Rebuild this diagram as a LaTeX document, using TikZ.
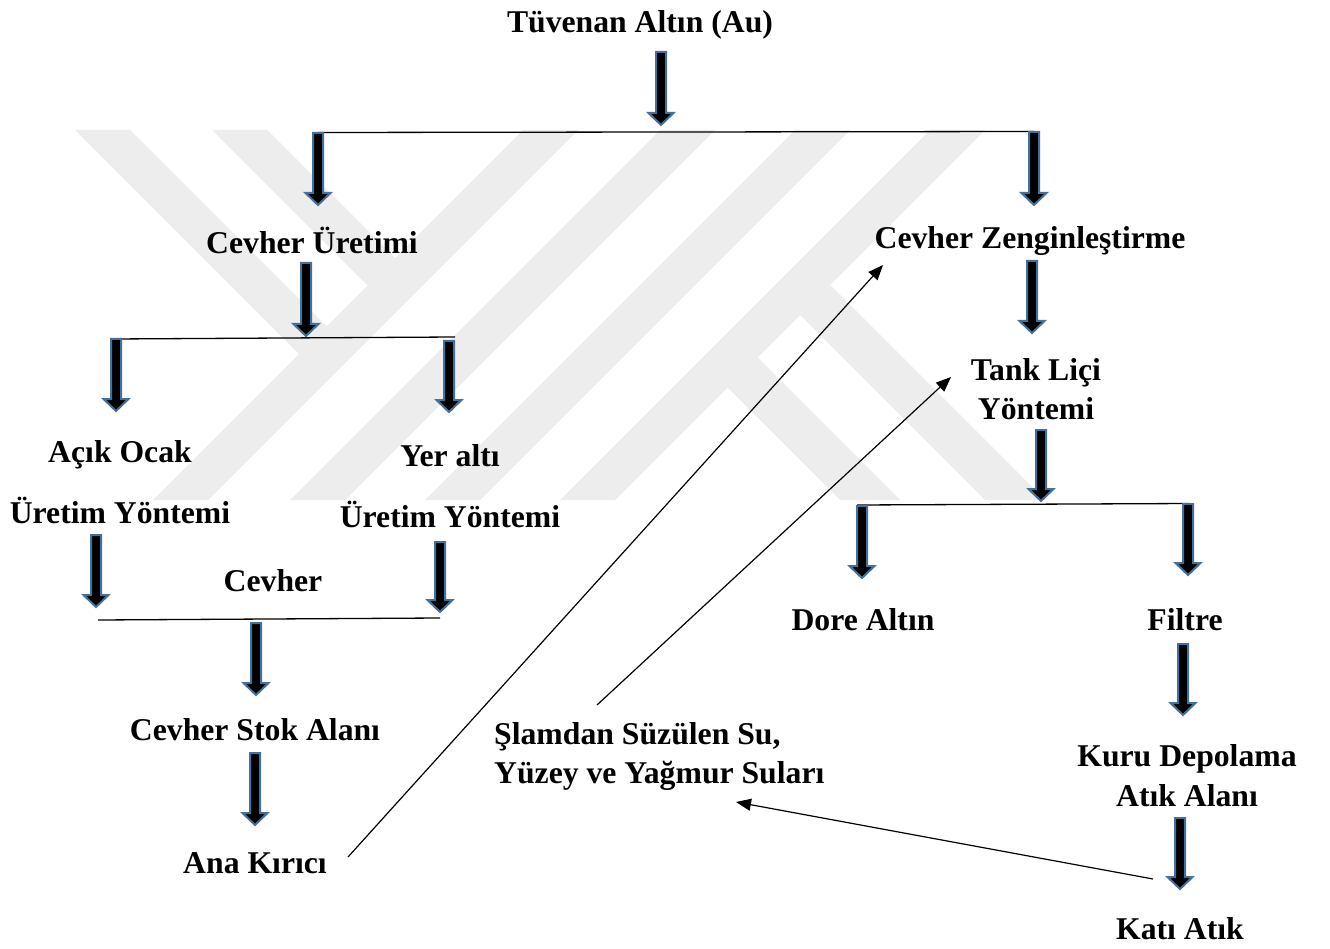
\documentclass[tikz,border=0pt]{standalone}
\usepackage{fontspec}
\setmainfont{Liberation Serif}
\usetikzlibrary{arrows.meta,calc}
\definecolor{arrowblue}{RGB}{65,113,156}
\definecolor{wmgray}{RGB}{237,237,237}
\tikzset{
  lbl/.style={font=\fontsize{31.7}{38}\selectfont\bfseries, inner sep=0pt, anchor=base},
  lblw/.style={lbl, anchor=base west},
  blockarrow/.style={fill=black, draw=arrowblue, line width=2pt, line join=miter},
  joinline/.style={draw=black, line width=1.3pt},
  feed/.style={draw=black, line width=1.2pt, -{Triangle[length=15pt,width=12pt]}},
  wmark/.style={fill=wmgray, draw=none},
}
\newcommand\barrow[2]{\path[blockarrow] let \p1=(#1), \p2=(#2) in
  (\x1-5pt,\y1) -- (\x1+5pt,\y1) -- (\x1+5pt,\y2+12pt) -- (\x1+12.5pt,\y2+12pt)
  -- (\x1,\y2) -- (\x1-12.5pt,\y2+12pt) -- (\x1-5pt,\y2+12pt) -- cycle;}
\begin{document}
\begin{tikzpicture}[x=1pt,y=-1pt]
\fill[white] (0,0) rectangle (1330,949);
\useasboundingbox (0,0) rectangle (1330,949);

% watermark
\fill[wmark] (75,130) -- (130,130) -- (326.5,326.5) -- (299,354) -- cycle;
\fill[wmark] (212,130) -- (267,130) -- (395,258) -- (367.5,285.5) -- cycle;
\fill[wmark] (523,130) -- (578,130) -- (208,500) -- (153,500) -- cycle;
\fill[wmark] (660,130) -- (715,130) -- (345,500) -- (290,500) -- cycle;
\fill[wmark] (795,130) -- (850,130) -- (480,500) -- (425,500) -- cycle;
\fill[wmark] (930,130) -- (985,130) -- (615,500) -- (560,500) -- cycle;
\fill[wmark] (830,285) -- (1045,500) -- (985,500) -- (800,315) -- cycle;
\fill[wmark] (757.5,357.5) -- (900,500) -- (840,500) -- (727.5,387.5) -- cycle;

% labels
\node[lbl] (tuv) at (640,33) {Tüvenan Altın (Au)};
\node[lbl] (uret) at (312,254) {Cevher Üretimi};
\node[lbl] (zeng) at (1030,248.5) {Cevher Zenginleştirme};
\node[lbl] (tankA) at (1036,380.5) {Tank Liçi};
\node[lbl] (tankB) at (1036,419.5) {Yöntemi};
\node[lbl] (acikA) at (120,462.5) {Açık Ocak};
\node[lbl] (acikB) at (120,523.5) {Üretim Yöntemi};
\node[lbl] (yerA) at (450,466.5) {Yer altı};
\node[lbl] (yerB) at (450,527.5) {Üretim Yöntemi};
\node[lbl] (cevher) at (273,591) {Cevher};
\node[lbl] (dore) at (863,630.5) {Dore Altın};
\node[lbl] (filtre) at (1185,630.5) {Filtre};
\node[lbl] (stok) at (255,740.5) {Cevher Stok Alanı};
\node[lblw] (slamA) at (494,744.5) {Şlamdan Süzülen Su,};
\node[lblw] (slamB) at (494,783.5) {Yüzey ve Yağmur Suları};
\node[lbl] (kuruA) at (1187,766.5) {Kuru Depolama};
\node[lbl] (kuruB) at (1187,806.5) {Atık Alanı};
\node[lbl] (ana) at (255,873) {Ana Kırıcı};
\node[lbl] (kati) at (1180,939.5) {Katı Atık};

% junction lines
\coordinate (j1L) at (318,132.5); \coordinate (j1R) at (1034,131.5);
\coordinate (j2L) at (113,339); \coordinate (j2R) at (455,337);
\coordinate (j3L) at (98,620); \coordinate (j3R) at (440,618);
\coordinate (j4L) at (857,505); \coordinate (j4R) at (1190,503.5);
\draw[joinline] (j1L) -- (j1R);
\draw[joinline] (j2L) -- (j2R);
\draw[joinline] (j3L) -- (j3R);
\draw[joinline] (j4L) -- (j4R);

% block arrows
\coordinate (a1s) at (661,52);   \coordinate (a1e) at (661,125);
\coordinate (a2s) at (318,133);  \coordinate (a2e) at (318,205);
\coordinate (a3s) at (1034,132); \coordinate (a3e) at (1034,205);
\coordinate (a4s) at (306,263);  \coordinate (a4e) at (306,336);
\coordinate (a5s) at (116,339);  \coordinate (a5e) at (116,411);
\coordinate (a6s) at (449,341);  \coordinate (a6e) at (449,412);
\coordinate (a7s) at (96,535);   \coordinate (a7e) at (96,607);
\coordinate (a8s) at (440,542);  \coordinate (a8e) at (440,612);
\coordinate (a9s) at (256,623);  \coordinate (a9e) at (256,695);
\coordinate (a10s) at (255,753); \coordinate (a10e) at (255,825);
\coordinate (a11s) at (1032,261); \coordinate (a11e) at (1032,333);
\coordinate (a12s) at (1041,430); \coordinate (a12e) at (1041,501);
\coordinate (a13s) at (862,506); \coordinate (a13e) at (862,578);
\coordinate (a14s) at (1188,504); \coordinate (a14e) at (1188,575);
\coordinate (a15s) at (1183,644); \coordinate (a15e) at (1183,715);
\coordinate (a16s) at (1180,818); \coordinate (a16e) at (1180,889);
\foreach \i in {1,...,16} {\barrow{a\i s}{a\i e}}

% thin feedback arrows
\coordinate (f1s) at (348,857); \coordinate (f1e) at (883,265);
\coordinate (f2s) at (597,705); \coordinate (f2e) at (951,377);
\coordinate (f3s) at (1153,879); \coordinate (f3e) at (736,802);
\draw[feed] (f1s) -- (f1e);
\draw[feed] (f2s) -- (f2e);
\draw[feed] (f3s) -- (f3e);
\end{tikzpicture}
\end{document}
